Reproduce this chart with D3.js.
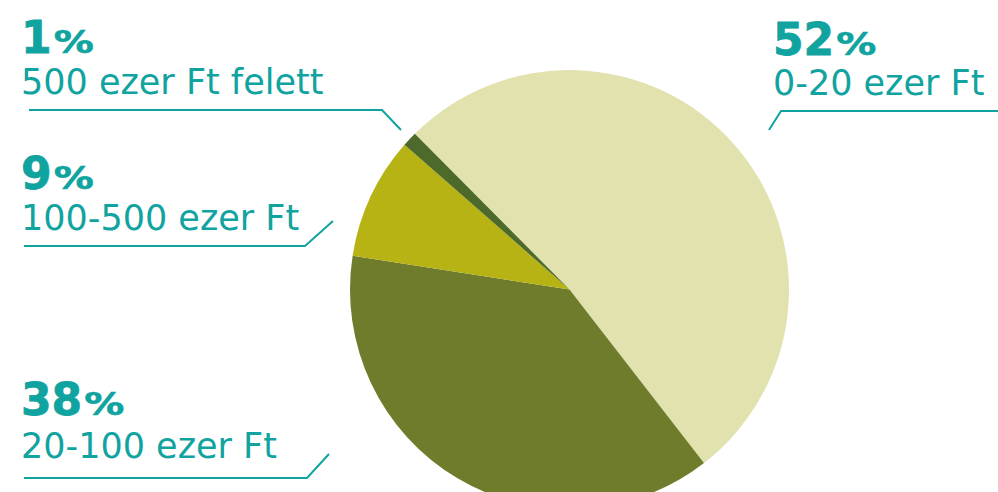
<!DOCTYPE html>
<html>
<head>
    <meta charset="utf-8">
    <title>Pie</title>
    <script src="https://d3js.org/d3.v7.min.js"></script>
    <style>
        body { margin: 0; background: #fff; }
    </style>
</head>
<body>
<div id="chart"></div>
<script type="text/javascript">
    // adatok
    let categories = ["0-20 ezer Ft", "20-100 ezer Ft", "100-500 ezer Ft", "500 ezer Ft felett"];
    let shares = [52, 38, 9, 1.1];
    let colors = ["#e1e2ae", "#6f7c2b", "#b7b315", "#4e6a2a"];

    let w = 998, h = 492;
    let cx = 569.5, cy = 289.5, r = 219.5;
    let teal = "#10a39f";

    // cimke elhelyezes: [x, szazalek alapvonal, szoveg alapvonal, vonal pontjai]
    let labelLayout = [
        {x: 773, y1: 55, y2: 95, line: [[769, 130], [781, 111], [998, 111]]},
        {x: 21, y1: 415, y2: 458, line: [[24, 478], [307, 478], [329, 454]]},
        {x: 21, y1: 189, y2: 230, line: [[24, 246], [305, 246], [333, 221]]},
        {x: 21, y1: 53, y2: 94, line: [[29, 110], [382, 110], [401, 130]]}
    ];

    let svg = d3.select("#chart")
        .append("svg")
        .attr("width", w)
        .attr("height", h);

    let start = -44.8 * Math.PI / 180;
    let pie = d3.pie()
        .sort(null)
        .startAngle(start)
        .endAngle(start + 2 * Math.PI);

    let arc = d3.arc().innerRadius(0).outerRadius(r);

    svg.append("g")
        .attr("transform", "translate(" + cx + "," + cy + ")")
        .selectAll("path")
        .data(pie(shares))
        .enter()
        .append("path")
        .attr("d", arc)
        .attr("fill", function(d, i) { return colors[i]; });

    let line = d3.line();

    categories.forEach(function(cat, i) {
        let L = labelLayout[i];
        let g = svg.append("g");

        let num = g.append("text")
            .attr("x", L.x)
            .attr("y", L.y1)
            .attr("font-family", "DejaVu Sans")
            .attr("font-weight", "bold")
            .attr("font-size", "44px")
            .attr("fill", teal)
            .attr("stroke", teal)
            .attr("stroke-width", 0.8)
            .text(Math.round(shares[i]));

        let nw = num.node().getComputedTextLength();
        g.append("text")
            .attr("x", L.x + nw + 2)
            .attr("y", L.y1)
            .attr("font-family", "DejaVu Sans")
            .attr("font-weight", "bold")
            .attr("font-size", "32px")
            .attr("textLength", 40)
            .attr("lengthAdjust", "spacingAndGlyphs")
            .attr("fill", teal)
            .attr("stroke", teal)
            .attr("stroke-width", 0.6)
            .text("%");

        g.append("text")
            .attr("x", L.x)
            .attr("y", L.y2)
            .attr("font-family", "DejaVu Sans")
            .attr("font-size", "35px")
            .attr("fill", teal)
            .text(cat);

        g.append("path")
            .attr("d", line(L.line))
            .attr("fill", "none")
            .attr("stroke", teal)
            .attr("stroke-width", 2);
    });
</script>
</body>
</html>
